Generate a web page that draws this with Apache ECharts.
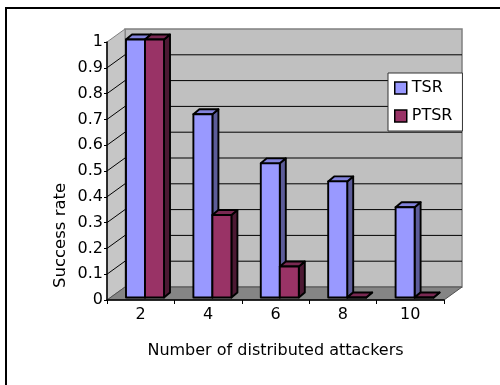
<!DOCTYPE html>
<html>
<head>
<meta charset="utf-8">
<script src="https://cdn.jsdelivr.net/npm/echarts@6/dist/echarts.min.js"></script>
<style>
  html, body { margin: 0; padding: 0; background: #fff; }
  #chart { width: 500px; height: 385px; }
</style>
</head>
<body>
<div id="chart"></div>
<script>
// Success rate by number of distributed attackers
var categories = ['2', '4', '6', '8', '10'];
var tsrValues = [1.0, 0.71, 0.52, 0.45, 0.35];
var ptsrValues = [1.0, 0.32, 0.12, 0, 0];
var seriesNames = ['TSR', 'PTSR'];
var gridValues = [0.1, 0.2, 0.3, 0.4, 0.5, 0.6, 0.7, 0.8, 0.9];

// Pseudo-3D geometry (pixels)
var DEPTH_X = 18, DEPTH_Y = -13;      // wall depth
var BAR_SHIFT_X = 4.3, BAR_SHIFT_Y = -2.5;
var BAR_DEPTH_X = 6, BAR_DEPTH_Y = -5;
var BAR_RATIO = 0.282;                 // bar width / category band
var FONT = '"DejaVu Sans", "Liberation Sans", sans-serif';

var palette = [
  { front: '#9999ff', side: '#5c5c99', top: '#8383dc' },
  { front: '#993366', side: '#4c1933', top: '#7a2952' }
];

var chart = echarts.init(document.getElementById('chart'), null, { renderer: 'canvas' });

// Back wall, side wall, floor and their gridlines
function renderChamber(params, api) {
  var cs = params.coordSys;
  var x0 = cs.x, y0 = cs.y, w = cs.width, h = cs.height;
  var children = [];
  children.push({
    type: 'rect',
    shape: { x: x0 + DEPTH_X, y: y0 + DEPTH_Y, width: w, height: h },
    style: { fill: '#c0c0c0', stroke: '#808080', lineWidth: 1.5 }
  });
  children.push({
    type: 'polygon',
    shape: { points: [[x0, y0], [x0 + DEPTH_X, y0 + DEPTH_Y], [x0 + DEPTH_X, y0 + h + DEPTH_Y], [x0, y0 + h]] },
    style: { fill: '#c6c6c6', stroke: '#808080', lineWidth: 1 }
  });
  children.push({
    type: 'polygon',
    shape: { points: [[x0, y0 + h], [x0 + w, y0 + h], [x0 + w + DEPTH_X, y0 + h + DEPTH_Y], [x0 + DEPTH_X, y0 + h + DEPTH_Y]] },
    style: { fill: '#858585', stroke: '#505050', lineWidth: 1 }
  });
  gridValues.forEach(function (v) {
    var y = api.coord([0, v])[1];
    children.push({
      type: 'line',
      shape: { x1: x0 + DEPTH_X, y1: y + DEPTH_Y, x2: x0 + w + DEPTH_X, y2: y + DEPTH_Y },
      style: { stroke: '#000', lineWidth: 1 }
    });
    children.push({
      type: 'line',
      shape: { x1: x0, y1: y, x2: x0 + DEPTH_X, y2: y + DEPTH_Y },
      style: { stroke: '#000', lineWidth: 1 }
    });
  });
  return { type: 'group', children: children };
}

// 3D-looking column: front face, right side and top
function makeBarRenderer(idx) {
  var col = palette[idx];
  return function (params, api) {
    var cat = api.value(0), val = api.value(1);
    var base = api.coord([cat, 0]);
    var top = api.coord([cat, val]);
    var band = api.size([1, 0])[0];
    var bw = band * BAR_RATIO;
    var L = base[0] - bw + idx * bw + BAR_SHIFT_X;
    var R = L + bw;
    var B = base[1] + BAR_SHIFT_Y;
    var T = top[1] + BAR_SHIFT_Y;
    var edge = { stroke: '#000', lineWidth: 1.9, lineJoin: 'round' };
    return {
      type: 'group',
      children: [
        {
          type: 'polygon',
          shape: { points: [[R, T], [R + BAR_DEPTH_X, T + BAR_DEPTH_Y], [R + BAR_DEPTH_X, B + BAR_DEPTH_Y], [R, B]] },
          style: Object.assign({ fill: col.side }, edge)
        },
        {
          type: 'polygon',
          shape: { points: [[L, T], [L + BAR_DEPTH_X, T + BAR_DEPTH_Y], [R + BAR_DEPTH_X, T + BAR_DEPTH_Y], [R, T]] },
          style: Object.assign({ fill: col.top }, edge)
        },
        {
          type: 'rect',
          shape: { x: L, y: T, width: bw, height: B - T },
          style: Object.assign({ fill: col.front }, edge)
        }
      ]
    };
  };
}

function toPairs(values) {
  return values.map(function (v, i) { return [i, v]; });
}

var option = {
  backgroundColor: '#fff',
  animation: false,
  textStyle: { fontFamily: FONT },
  grid: { left: 107, top: 42, width: 337, height: 258, containLabel: false },
  legend: {
    orient: 'vertical',
    left: 388,
    top: 73,
    padding: [7, 10, 7, 6],
    backgroundColor: '#fff',
    borderColor: '#333',
    borderWidth: 1,
    itemWidth: 12,
    itemHeight: 12,
    itemGap: 12,
    icon: 'rect',
    textStyle: { fontFamily: FONT, fontSize: 16, color: '#000', lineHeight: 16 },
    data: [
      { name: seriesNames[0], itemStyle: { color: palette[0].front, borderColor: '#000', borderWidth: 1.5 } },
      { name: seriesNames[1], itemStyle: { color: palette[1].front, borderColor: '#000', borderWidth: 1.5 } }
    ]
  },
  xAxis: {
    type: 'category',
    data: categories,
    axisLine: { lineStyle: { color: '#000', width: 1.5 } },
    axisTick: { show: true, length: 4, lineStyle: { color: '#000' } },
    axisLabel: { fontFamily: FONT, fontSize: 16, color: '#000', margin: 7 },
    name: 'Number of distributed attackers',
    nameLocation: 'middle',
    nameGap: 43,
    nameTextStyle: { fontFamily: FONT, fontSize: 16, color: '#000' },
    z: 5
  },
  yAxis: {
    type: 'value',
    min: 0,
    max: 1,
    interval: 0.1,
    axisLine: { show: true, lineStyle: { color: '#000', width: 1.5 } },
    axisTick: { show: true, length: 3, lineStyle: { color: '#000' } },
    axisLabel: { fontFamily: FONT, fontSize: 16, color: '#000', margin: 4 },
    splitLine: { show: false },
    z: 5
  },
  graphic: [
    {
      type: 'rect',
      shape: { x: 6, y: 8, width: 600, height: 500 },
      style: { fill: 'none', stroke: '#000', lineWidth: 2 },
      silent: true
    },
    {
      type: 'text',
      x: 61,
      y: 288,
      rotation: Math.PI / 2,
      style: {
        text: 'Success rate',
        font: '16.5px ' + FONT,
        fill: '#000',
        align: 'left',
        verticalAlign: 'middle'
      },
      silent: true
    }
  ],
  series: [
    {
      name: 'chamber',
      type: 'custom',
      z: -10,
      silent: true,
      clip: false,
      renderItem: renderChamber,
      data: [[0, 0]],
      encode: { x: 0, y: 1 }
    },
    {
      name: seriesNames[0],
      type: 'custom',
      z: 2,
      clip: false,
      itemStyle: { color: palette[0].front },
      renderItem: makeBarRenderer(0),
      data: toPairs(tsrValues),
      encode: { x: 0, y: 1 }
    },
    {
      name: seriesNames[1],
      type: 'custom',
      z: 3,
      clip: false,
      itemStyle: { color: palette[1].front },
      renderItem: makeBarRenderer(1),
      data: toPairs(ptsrValues),
      encode: { x: 0, y: 1 }
    }
  ]
};

chart.setOption(option);
</script>
</body>
</html>
